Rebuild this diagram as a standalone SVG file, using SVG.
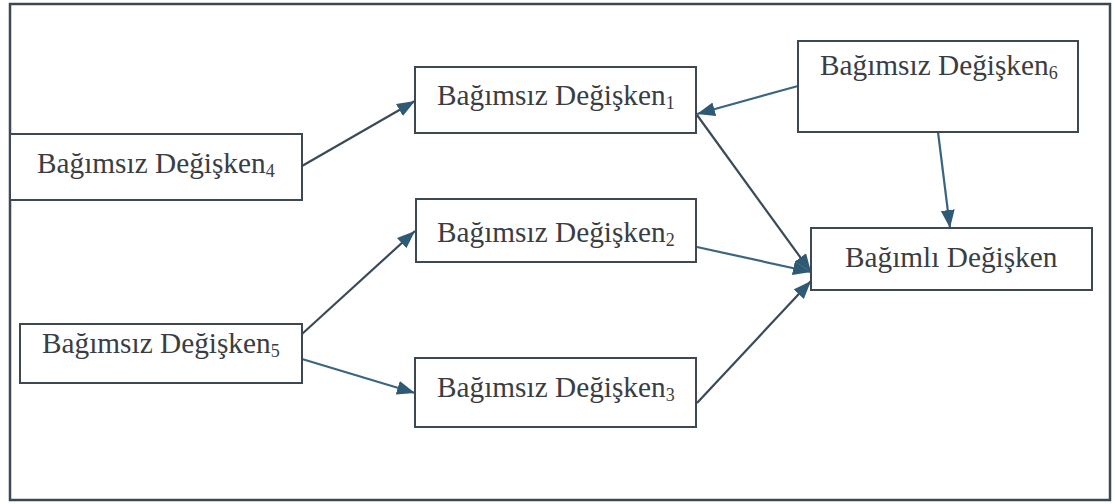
<svg xmlns="http://www.w3.org/2000/svg" width="1115" height="504" viewBox="0 0 1115 504">
  <style>
    .frame { fill: #ffffff; stroke: #3e4852; stroke-width: 2.5; }
    .box { fill: #ffffff; stroke: #3e4852; stroke-width: 2; }
    .lbl { font-family: "Liberation Serif", "Times New Roman", serif; font-size: 29.3px; fill: #3a3d42; }
    .sub { font-size: 18px; }
    .edge { fill: none; stroke: #3b4a58; stroke-width: 2.2; marker-end: url(#head); }
    .edge.blue { stroke: #3a6582; }
  </style>
  <defs>
    <marker id="head" markerUnits="userSpaceOnUse" markerWidth="20" markerHeight="16" refX="18" refY="7" orient="auto">
      <path d="M0,0 L18,7 L0,14 Z" fill="#2e5a76"/>
    </marker>
  </defs>

  <rect class="frame" x="10" y="4" width="1100" height="496"/>

  <g id="connectors">
    <line class="edge" x1="302" y1="166" x2="415" y2="101"/>
    <line class="edge blue" x1="798" y1="86" x2="697" y2="114"/>
    <line class="edge" x1="697" y1="115" x2="811" y2="272"/>
    <line class="edge blue" x1="697" y1="247" x2="811" y2="272"/>
    <line class="edge" x1="697" y1="403" x2="811" y2="281"/>
    <line class="edge blue" x1="938" y1="132" x2="950" y2="228"/>
    <line class="edge" x1="302" y1="334" x2="415" y2="231"/>
    <line class="edge blue" x1="302" y1="359" x2="415" y2="393"/>
  </g>

  <g id="n4">
    <rect class="box" x="10" y="134" width="292" height="66"/>
    <text class="lbl" x="37" y="173">Bağımsız Değişken<tspan class="sub" dy="4">4</tspan></text>
  </g>
  <g id="n1">
    <rect class="box" x="415" y="67" width="281" height="66"/>
    <text class="lbl" x="437" y="105">Bağımsız Değişken<tspan class="sub" dy="4">1</tspan></text>
  </g>
  <g id="n2">
    <rect class="box" x="416" y="199" width="280" height="63"/>
    <text class="lbl" x="437" y="242">Bağımsız Değişken<tspan class="sub" dy="4">2</tspan></text>
  </g>
  <g id="n6">
    <rect class="box" x="798" y="41" width="280" height="91"/>
    <text class="lbl" x="820" y="75">Bağımsız Değişken<tspan class="sub" dy="4">6</tspan></text>
  </g>
  <g id="dependent">
    <rect class="box" x="811" y="228" width="281" height="62"/>
    <text class="lbl" x="845" y="267">Bağımlı Değişken</text>
  </g>
  <g id="n5">
    <rect class="box" x="20" y="324" width="282" height="59"/>
    <text class="lbl" x="42" y="353">Bağımsız Değişken<tspan class="sub" dy="4">5</tspan></text>
  </g>
  <g id="n3">
    <rect class="box" x="415" y="358" width="281" height="69"/>
    <text class="lbl" x="437" y="397">Bağımsız Değişken<tspan class="sub" dy="4">3</tspan></text>
  </g>
</svg>
